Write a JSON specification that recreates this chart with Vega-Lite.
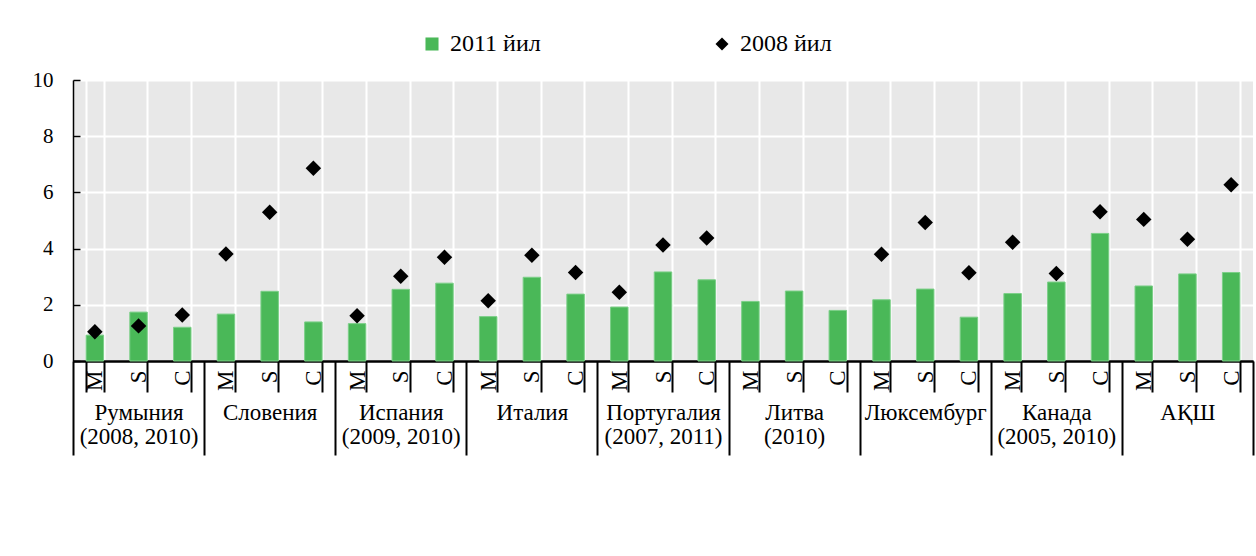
{
  "$schema": "https://vega.github.io/schema/vega-lite/v6.json",
  "autosize": {"type": "none"},
  "width": 1180,
  "height": 281,
  "padding": {"left": 73, "top": 80, "right": 3, "bottom": 195},
  "background": "white",
  "config": {
    "view": {"fill": "#e8e8e8", "stroke": null},
    "font": "Times New Roman, Liberation Serif, DejaVu Serif, serif",
    "axis": {
      "labelFont": "Times New Roman, Liberation Serif, DejaVu Serif, serif",
      "labelColor": "black",
      "domainColor": "black",
      "tickColor": "black",
      "gridColor": "white",
      "gridOpacity": 1,
      "gridWidth": 2,
      "title": null
    },
    "legend": {"labelFont": "Times New Roman, Liberation Serif, DejaVu Serif, serif"}
  },
  "data": {
    "values": [
      {"cat": "1-M", "group": "Румыния\n(2008, 2010)", "v2011": 0.92, "v2008": 1.04},
      {"cat": "1-S", "group": "Румыния\n(2008, 2010)", "v2011": 1.74, "v2008": 1.25},
      {"cat": "1-C", "group": "Румыния\n(2008, 2010)", "v2011": 1.2, "v2008": 1.64},
      {"cat": "2-M", "group": "Словения", "v2011": 1.67, "v2008": 3.81},
      {"cat": "2-S", "group": "Словения", "v2011": 2.48, "v2008": 5.29},
      {"cat": "2-C", "group": "Словения", "v2011": 1.39, "v2008": 6.86},
      {"cat": "3-M", "group": "Испания\n(2009, 2010)", "v2011": 1.33, "v2008": 1.61},
      {"cat": "3-S", "group": "Испания\n(2009, 2010)", "v2011": 2.55, "v2008": 3.02},
      {"cat": "3-C", "group": "Испания\n(2009, 2010)", "v2011": 2.77, "v2008": 3.69},
      {"cat": "4-M", "group": "Италия", "v2011": 1.58, "v2008": 2.14},
      {"cat": "4-S", "group": "Италия", "v2011": 2.98, "v2008": 3.76},
      {"cat": "4-C", "group": "Италия", "v2011": 2.38, "v2008": 3.15},
      {"cat": "5-M", "group": "Португалия\n(2007, 2011)", "v2011": 1.92, "v2008": 2.45},
      {"cat": "5-S", "group": "Португалия\n(2007, 2011)", "v2011": 3.17, "v2008": 4.13},
      {"cat": "5-C", "group": "Португалия\n(2007, 2011)", "v2011": 2.89, "v2008": 4.38},
      {"cat": "6-M", "group": "Литва\n(2010)", "v2011": 2.12, "v2008": null},
      {"cat": "6-S", "group": "Литва\n(2010)", "v2011": 2.49, "v2008": null},
      {"cat": "6-C", "group": "Литва\n(2010)", "v2011": 1.8, "v2008": null},
      {"cat": "7-M", "group": "Люксембург", "v2011": 2.18, "v2008": 3.8},
      {"cat": "7-S", "group": "Люксембург", "v2011": 2.56, "v2008": 4.93},
      {"cat": "7-C", "group": "Люксембург", "v2011": 1.56, "v2008": 3.14},
      {"cat": "8-M", "group": "Канада\n(2005, 2010)", "v2011": 2.4, "v2008": 4.23},
      {"cat": "8-S", "group": "Канада\n(2005, 2010)", "v2011": 2.81, "v2008": 3.11},
      {"cat": "8-C", "group": "Канада\n(2005, 2010)", "v2011": 4.54, "v2008": 5.31},
      {"cat": "9-M", "group": "АҚШ", "v2011": 2.67, "v2008": 5.04},
      {"cat": "9-S", "group": "АҚШ", "v2011": 3.1, "v2008": 4.33},
      {"cat": "9-C", "group": "АҚШ", "v2011": 3.15, "v2008": 6.27}
    ]
  },
  "layer": [
    {
      "layer": [
        {
          "mark": {"type": "bar", "color": "#4ab858", "stroke": "#7ccf88", "strokeWidth": 1},
          "encoding": {
            "x": {
              "field": "cat", "type": "nominal", "sort": null,
              "scale": {"paddingInner": 0.6, "paddingOuter": 0.3},
              "axis": {
                "orient": "bottom",
                "tickBand": "extent",
                "tickSize": 31,
                "tickWidth": 2,
                "domainWidth": 2,
                "grid": true,
                "labelAngle": 270,
                "labelFontSize": 23,
                "labelPadding": -22,
                "labelExpr": "slice(datum.label, -1)",
                "labelOverlap": false
              }
            },
            "y": {
              "field": "v2011", "type": "quantitative",
              "scale": {"domain": [0, 10], "nice": false},
              "axis": {
                "values": [0, 2, 4, 6, 8, 10],
                "tickSize": -7,
                "tickWidth": 1.5,
                "domainWidth": 1.5,
                "labelFontSize": 21,
                "labelPadding": 27,
                "grid": true
              }
            },
            "color": {
              "datum": "2011 йил",
              "scale": {"domain": ["2011 йил", "2008 йил"], "range": ["#4ab858", "black"]},
              "legend": {
                "orient": "none",
                "direction": "horizontal",
                "legendX": 347,
                "legendY": -48,
                "title": null,
                "padding": 0,
                "symbolSize": 170,
                "symbolStrokeWidth": 0,
                "labelFontSize": 24,
                "labelOffset": 6,
                "columnPadding": 169,
                "labelColor": "black"
              }
            }
          }
        },
        {
          "mark": {"type": "point", "filled": true, "size": 240, "opacity": 1},
          "encoding": {
            "x": {"field": "cat", "type": "nominal", "sort": null},
            "y": {"field": "v2008", "type": "quantitative"},
            "color": {"datum": "2008 йил"},
            "shape": {
              "datum": "2008 йил",
              "scale": {"domain": ["2011 йил", "2008 йил"], "range": ["square", "diamond"]},
              "legend": {
                "orient": "none",
                "direction": "horizontal",
                "legendX": 347,
                "legendY": -48,
                "title": null,
                "padding": 0,
                "symbolSize": 170,
                "symbolStrokeWidth": 0,
                "labelFontSize": 24,
                "labelOffset": 6,
                "columnPadding": 169,
                "labelColor": "black"
              }
            }
          }
        }
      ]
    },
    {
      "mark": {"type": "point", "opacity": 0},
      "encoding": {
        "x": {
          "field": "group", "type": "nominal", "sort": null,
          "scale": {"paddingInner": 0, "paddingOuter": 0},
          "axis": {
            "orient": "bottom",
            "tickBand": "extent",
            "tickSize": 94,
            "tickWidth": 2,
            "domainWidth": 2,
            "grid": false,
            "labelAngle": 0,
            "labelFontSize": 23,
            "labelBaseline": "top",
            "labelPadding": -54,
            "labelLineHeight": 24,
            "labelExpr": "split(datum.label, '\\n')",
            "labelOverlap": false
          }
        },
        "y": {"field": "v2011", "type": "quantitative"}
      }
    }
  ],
  "resolve": {"scale": {"x": "independent"}, "axis": {"x": "independent"}}
}
